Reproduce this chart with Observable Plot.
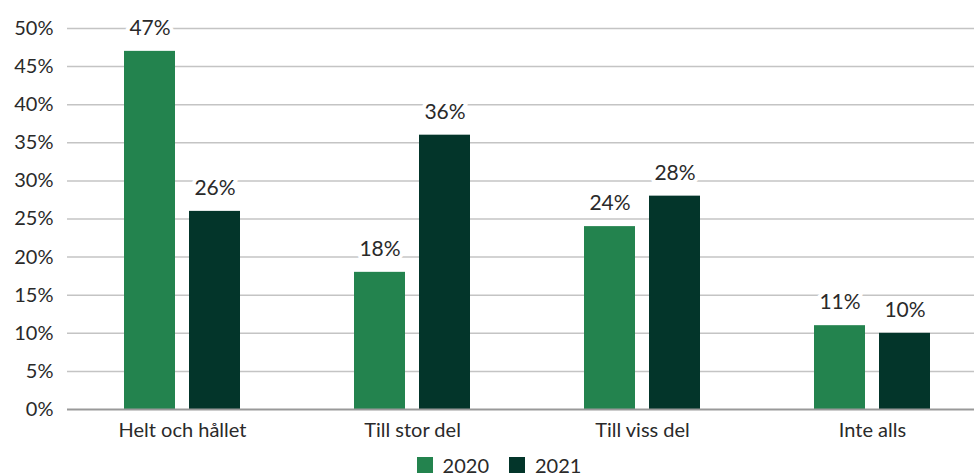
<!DOCTYPE html>
<html>
<head>
<meta charset="utf-8">
<script src="https://cdn.jsdelivr.net/npm/d3@7"></script>
<script src="https://cdn.jsdelivr.net/npm/@observablehq/plot@0.6"></script>
<style>
  html, body { margin: 0; padding: 0; background: #fff; }
  body { width: 974px; height: 475px; overflow: hidden; font-family: Lato, "Open Sans", sans-serif; }
  #legend { display: flex; justify-content: center; margin-top: 5px; padding-left: 44px; }
  #legend > * { margin: 0 !important; }
</style>
</head>
<body>
<div id="chart"></div>
<div id="legend"></div>
<script>
const categories = ["Helt och hållet", "Till stor del", "Till viss del", "Inte alls"];
const years = ["2020", "2021"];
const values2020 = [47, 18, 24, 11];
const values2021 = [26, 36, 28, 10];
const yTicks = [0, 5, 10, 15, 20, 25, 30, 35, 40, 45, 50];
const colors = ["#23834e", "#03352a"];

const rows2020 = categories.map((c, i) => ({category: c, year: "2020", value: values2020[i]}));
const rows2021 = categories.map((c, i) => ({category: c, year: "2021", value: values2021[i]}));

const font = "Lato, 'Open Sans', sans-serif";

const chart = Plot.plot({
  width: 974,
  height: 443,
  marginTop: 28,
  marginBottom: 34,
  marginLeft: 67,
  marginRight: 0,
  style: {fontFamily: font, fontSize: "20px", color: "#2a2a2a", background: "#fff"},
  x: {domain: categories, range: [67, 987], padding: 0, label: null, tickSize: 0, tickPadding: 13},
  y: {domain: [0, 50], ticks: yTicks, tickFormat: d => d + "%", label: null, tickSize: 0, tickPadding: 14},
  marks: [
    Plot.ruleY(yTicks.filter(d => d > 0), {stroke: "#c4c4c4", strokeWidth: 1.5}),
    Plot.barY(rows2020, {x: "category", y: "value", fill: colors[0], insetLeft: 57, insetRight: 122}),
    Plot.barY(rows2021, {x: "category", y: "value", fill: colors[1], insetLeft: 122, insetRight: 57}),
    Plot.ruleY([0], {stroke: "#999", strokeWidth: 2}),
    Plot.text(rows2020, {x: "category", y: "value", dx: -32.5, dy: -23, text: d => d.value + "%",
      fill: "#2a2a2a", stroke: "#fff", strokeWidth: 8, fontSize: 21}),
    Plot.text(rows2021, {x: "category", y: "value", dx: 32.5, dy: -23, text: d => d.value + "%",
      fill: "#2a2a2a", stroke: "#fff", strokeWidth: 8, fontSize: 21})
  ]
});
document.getElementById("chart").append(chart);

const legend = Plot.legend({
  color: {type: "ordinal", domain: years, range: colors},
  legend: "swatches",
  swatchSize: 16,
  style: {fontFamily: font, fontSize: "20px", color: "#2a2a2a"}
});
document.getElementById("legend").append(legend);
</script>
</body>
</html>
